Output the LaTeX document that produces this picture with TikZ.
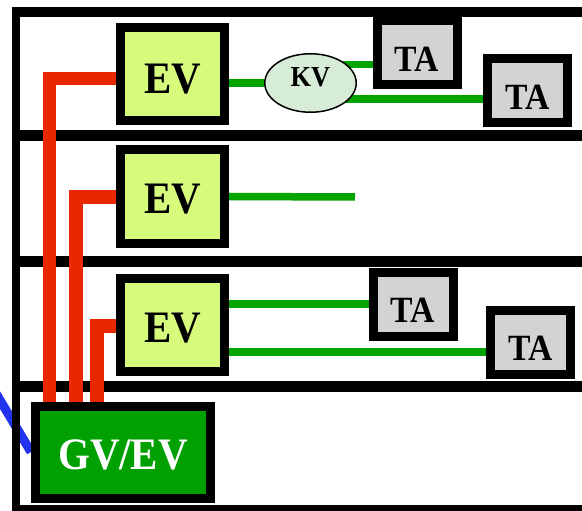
\documentclass[tikz,border=0pt]{standalone}
\usepackage{graphicx}
\usepackage{fontspec}
\setmainfont{Liberation Serif}
\usetikzlibrary{shapes.geometric,backgrounds}
\definecolor{evfill}{RGB}{214,250,123}
\definecolor{tafill}{RGB}{211,211,211}
\definecolor{kvfill}{RGB}{214,236,214}
\definecolor{gvgreen}{RGB}{0,160,0}
\definecolor{lgreen}{RGB}{0,165,0}
\definecolor{lred}{RGB}{232,40,0}
\definecolor{lblue}{RGB}{34,51,238}
\newcommand{\hsq}[1]{\scalebox{0.91}[1]{#1}}
\begin{document}
\begin{tikzpicture}[x=1pt,y=-1pt,
  framebar/.style={fill=black},
  evbox/.style={draw, line width=9pt, fill=evfill, minimum width=104pt, minimum height=93pt, inner sep=0pt, text height=35pt, text depth=0pt, font=\fontsize{45}{45}\selectfont\bfseries},
  tabox/.style={draw, line width=9pt, fill=tafill, minimum width=80pt, minimum height=64pt, inner sep=0pt, text height=37.5pt, text depth=0pt, font=\fontsize{37}{37}\selectfont\bfseries},
  kvnode/.style={ellipse, draw, line width=1.5pt, fill=kvfill, minimum width=91.5pt, minimum height=58.5pt, inner sep=0pt, text height=19.2pt, text depth=13pt, font=\fontsize{29}{29}\selectfont\bfseries},
  gvbox/.style={draw, line width=9pt, fill=gvgreen, text=white, minimum width=175pt, minimum height=92pt, inner sep=0pt, text height=34.8pt, text depth=0pt, font=\fontsize{45}{45}\selectfont\bfseries},
  gline/.style={draw=lgreen, line width=7.5pt},
  rline/.style={draw=lred, line width=13.5pt},
  bline/.style={draw=lblue, line width=9pt}]
\useasboundingbox (0,0) rectangle (582,511);
\clip (0,0) rectangle (582,511);

% nodes
\node[evbox, text height=37.5pt] (EV1) at (172.5,74.5) {\hsq{EV}};
\node[evbox, text height=33pt] (EV2) at (172.5,196.5) {\hsq{EV}};
\node[evbox] (EV3) at (172.5,325) {\hsq{EV}};
\node[tabox] (TA1) at (417,53) {\hsq{TA}};
\node[tabox] (TA2) at (527.5,91) {\hsq{TA}};
\node[tabox] (TA3) at (413,304) {\hsq{TA}};
\node[tabox] (TA4) at (530.5,342) {\hsq{TA}};
\node[kvnode] (KV) at (310.5,83) {\hsq{KV}};
\node[gvbox] (GV) at (123,452.5) {\hsq{GV/EV}};

\coordinate (bstart) at (-6,390);
\coordinate (g2) at (355,197);

\begin{scope}[on background layer]
  % blue link, under the frame
  \draw[bline] (bstart) -- (GV.west |- 0,452);
  % links from KV
  \draw[gline] (KV.center |- 0,64.5) -- (TA1.west |- 0,64.5);
  \draw[gline] (KV.center |- 0,99) -- (TA2.west |- 0,99);
\end{scope}

% frame
\fill[framebar] (12,7) rectangle (20,520);
\fill[framebar] (12,7) rectangle (590,17.5);
\fill[framebar] (12,130) rectangle (590,141);
\fill[framebar] (12,255.5) rectangle (590,266.5);
\fill[framebar] (12,381) rectangle (590,392);
\fill[framebar] (12,505) rectangle (590,520);

% green links
\draw[gline] (EV1.east |- KV.west) -- (KV.west);
\draw[gline] (EV2.east) -- (g2);
\draw[gline] (EV3.east |- TA3.west) -- (TA3.west);
\draw[gline] (EV3.east |- 0,352) -- (TA4.west |- 0,352);

% red links
\draw[rline] (GV.north -| 49.5,0) -- (49.5,78.5) -- (EV1.west |- 0,78.5);
\draw[rline] (GV.north -| 76,0) -- (76,197) -- (EV2.west |- 0,197);
\draw[rline] (GV.north -| 97,0) -- (97,326) -- (EV3.west |- 0,326);
\end{tikzpicture}
\end{document}
